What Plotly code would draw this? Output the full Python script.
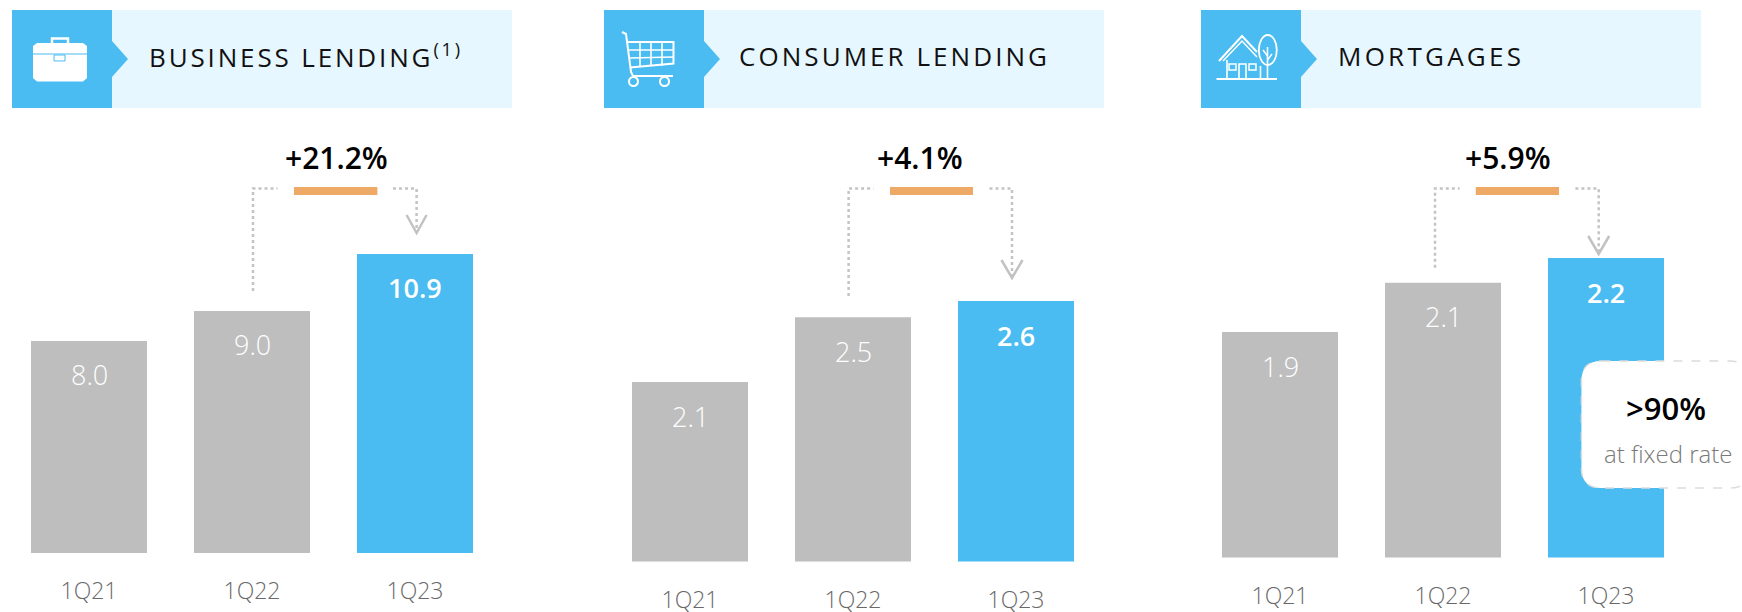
import plotly.graph_objects as go

W, H = 1742, 612

# ---------- data ----------
categories = ["1Q21", "1Q22", "1Q23"]
business_values = [8.0, 9.0, 10.9]
consumer_values = [2.1, 2.5, 2.6]
mortgage_values = [1.9, 2.1, 2.2]
value_labels_business = ["8.0", "9.0", "10.9"]
value_labels_consumer = ["2.1", "2.5", "2.6"]
value_labels_mortgage = ["1.9", "2.1", "2.2"]
panel_titles = ["BUSINESS LENDING<sup>(1)</sup>", "CONSUMER LENDING", "MORTGAGES"]
growth_labels = ["+21.2%", "+4.1%", "+5.9%"]
callout_main = ">90%"
callout_sub = "at fixed rate"

# ---------- style ----------
BLUE = "#4ABCF1"
GREY = "#BEBEBE"
PALE = "#E7F7FF"
ORANGE = "#EFA966"
DOT = "#C4C4C4"
FONT = "Open Sans"


def px(x):
    return x / W


def py(y):
    return 1 - y / H


def path(cmds):
    """Pixel path commands -> paper-space SVG path."""
    out = []
    for c in cmds:
        if isinstance(c, str):
            out.append(c)
        else:
            out.append(f"{px(c[0]):.5f},{py(c[1]):.5f}")
    return " ".join(out)


shapes = []


def rect(x0, y0, x1, y1, color):
    shapes.append(dict(type="rect", xref="paper", yref="paper", x0=px(x0), x1=px(x1),
                       y0=py(y1), y1=py(y0), fillcolor=color, line_width=0, layer="above"))


def line(pts, color, width=2, dash=None, fill=None, close=False):
    cmds = []
    for i, p in enumerate(pts):
        cmds += ["M" if i == 0 else "L", p]
    if close:
        cmds.append("Z")
    shapes.append(dict(type="path", xref="paper", yref="paper", path=path(cmds),
                       line=dict(color=color, width=width, dash=dash or "solid"),
                       fillcolor=fill or "rgba(0,0,0,0)", layer="above"))


def ellipse(x0, y0, x1, y1, color, width=2, fill=None):
    shapes.append(dict(type="circle", xref="paper", yref="paper", x0=px(x0), x1=px(x1),
                       y0=py(y1), y1=py(y0), line=dict(color=color, width=width),
                       fillcolor=fill or "rgba(0,0,0,0)", layer="above"))


# (x0 blue, x1 blue, x1 band, tip)
headers = [(12, 112, 512, 128), (604, 704, 1104, 720), (1201, 1301, 1701, 1317)]
for x0, x1, x2, tip in headers:
    rect(x1, 10, x2, 108, PALE)
    rect(x0, 10, x1, 108, BLUE)
    line([(x1, 41), (tip, 59), (x1, 77)], BLUE, 0, fill=BLUE, close=True)

# connectors: (left x, left bottom y, left end, orange x0, orange x1, right start, right x, tip y, V half width)
connectors = [
    (253, 291, 277.5, 294, 377.4, 393, 416.6, 233, 10),
    (848.6, 296, 873.4, 890, 973, 989.5, 1012, 278, 10.5),
    (1435, 267.7, 1459.6, 1475.8, 1559, 1575.4, 1598.7, 254, 10.5),
]
for lx, ly, le, o0, o1, rs, rx, tip, hw in connectors:
    rect(o0, 187, o1, 195, ORANGE)
    line([(lx, ly), (lx, 188.5), (le, 188.5)], DOT, 2.5, "dot")
    line([(rs, 188.5), (rx, 188.5), (rx, tip - 3)], DOT, 2.5, "dot")
    line([(rx - hw, tip - 18), (rx, tip), (rx + hw, tip - 18)], "#C2C2C2", 2.5)

# briefcase icon
line([(37, 43), (83, 43), (87, 46), (87, 78), (83, 81.5), (37, 81.5), (33, 78), (33, 46)], "#FFFFFF", 0, fill="#FFFFFF", close=True)
line([(52, 43), (52, 38.5), (68, 38.5), (68, 43)], "#FFFFFF", 2.5)
rect(33, 53.5, 87, 54.5, BLUE)
line([(54, 55), (65, 55), (65, 61), (54, 61)], BLUE, 1, fill="#FFFFFF", close=True)

# cart icon
w = "#FFFFFF"
line([(622, 32), (626, 34), (631, 72), (633, 76), (673, 76)], w, 2)
line([(628, 42), (673.5, 42), (673.5, 63.5), (630, 67.5)], w, 2)
for gx in (640, 651, 662):
    line([(gx, 42), (gx, 66)], w, 1.6)
line([(629, 50), (673.5, 50)], w, 1.6)
line([(630, 58), (673.5, 57)], w, 1.6)
ellipse(629, 77, 638, 86, w, 2)
ellipse(660, 77, 669, 86, w, 2)

# house + tree icon
line([(1216.5, 79), (1277, 79)], w, 2)
line([(1219, 61), (1242, 36), (1257, 52)], w, 2)
line([(1223, 61), (1242, 41), (1257, 57)], w, 1.5)
line([(1227, 60), (1227, 78)], w, 1.6)
line([(1239, 78), (1239, 64), (1246, 64), (1246, 78)], w, 1.6)
line([(1229, 64), (1236, 64), (1236, 70), (1229, 70)], w, 1.5, close=True)
line([(1249, 64), (1256, 64), (1256, 70), (1249, 70)], w, 1.5, close=True)
line([(1260.5, 66), (1260.5, 78)], w, 1.6)
ellipse(1258.8, 35, 1276.8, 65, w, 1.8)
line([(1267.5, 47), (1267.5, 78)], w, 1.6)
line([(1263, 50), (1267.5, 56)], w, 1.4)
line([(1272, 54), (1267.5, 60)], w, 1.4)

# callout
cx0, cy0, cx1, cy1, r = 1581.4, 361, 1750, 488, 20
shapes.append(dict(type="path", xref="paper", yref="paper", layer="above", fillcolor="#FFFFFF",
                   line=dict(color="#DCDCDC", width=1.5, dash="dash"),
                   path=path(["M", (cx0 + r, cy0), "L", (cx1 - r, cy0), "Q", (cx1, cy0), (cx1, cy0 + r),
                              "L", (cx1, cy1 - r), "Q", (cx1, cy1), (cx1 - r, cy1), "L", (cx0 + r, cy1),
                              "Q", (cx0, cy1), (cx0, cy1 - r), "L", (cx0, cy0 + r), "Q", (cx0, cy0), (cx0 + r, cy0), "Z"])))

annotations = []


def note(x, y, text, size, color, weight=400, xanchor="center"):
    annotations.append(dict(xref="paper", yref="paper", x=px(x), y=py(y), text=text, showarrow=False,
                            xanchor=xanchor, yanchor="middle",
                            font=dict(family=FONT, size=size, color=color, weight=weight)))


title_x = [147, 736.5, 1336]
title_spacing = [2.85, 3.05, 3.25]
for t, x, ls in zip(panel_titles, title_x, title_spacing):
    note(x, 56, f'<span style="letter-spacing:{ls}px">{t}</span>', 26, "#111111", 400, "left")

for t, x in zip(growth_labels, [336.7, 919.5, 1507.8]):
    note(x, 158, t, 30, "#000000", 600)

note(1666, 408, callout_main, 31, "#000000", 600)
note(1668, 453, callout_sub, 24, "#7A7A7A", 300)

# ---------- panels: (x domain px, baseline px, axis floor, px per unit) ----------
panels = [
    ((7.5, 496.5), 553, 0.93, 30.0, business_values, value_labels_business, ""),
    ((608.5, 1097.5), 561.5, 0.992, 162.0, consumer_values, value_labels_consumer, "2"),
    ((1198.5, 1687.5), 557.5, 0.986, 246.7, mortgage_values, value_labels_mortgage, "3"),
]
TOP_PX = 200

fig = go.Figure()
layout_axes = {}
for dom, base, floor, k, vals, labs, sfx in panels:
    fig.add_trace(go.Bar(x=categories, y=vals, xaxis=f"x{sfx}", yaxis=f"y{sfx}",
                         marker=dict(color=[GREY, GREY, BLUE], line_width=0),
                         width=116 / 163, hoverinfo="skip", showlegend=False))
    layout_axes[f"xaxis{sfx}"] = dict(domain=[px(dom[0]), px(dom[1])], anchor=f"y{sfx}", type="category",
                                      showgrid=False, showline=False, zeroline=False, ticks="",
                                      automargin=False, ticklabelstandoff=22,
                                      tickfont=dict(family=FONT, size=23, color="#686868", weight=300))
    layout_axes[f"yaxis{sfx}"] = dict(domain=[py(base), py(TOP_PX)], anchor=f"x{sfx}", visible=False,
                                      automargin=False,
                                      range=[floor, floor + (base - TOP_PX) / k], fixedrange=True)
    for i, (c, v, lab) in enumerate(zip(categories, vals, labs)):
        blue = i == 2
        annotations.append(dict(xref=f"x{sfx}", yref=f"y{sfx}", x=c, y=v, yshift=-34, text=lab, showarrow=False,
                                xanchor="center", yanchor="middle",
                                font=dict(family=FONT, size=27, color="#FFFFFF", weight=600 if blue else 300)))

fig.update_layout(width=W, height=H, margin=dict(l=0, r=0, t=0, b=0), paper_bgcolor="#FFFFFF",
                  plot_bgcolor="rgba(0,0,0,0)", shapes=shapes, annotations=annotations,
                  font=dict(family=FONT), **layout_axes)

fig.write_html("out.html", config=dict(displayModeBar=False), post_script="document.body.style.margin='0';")
